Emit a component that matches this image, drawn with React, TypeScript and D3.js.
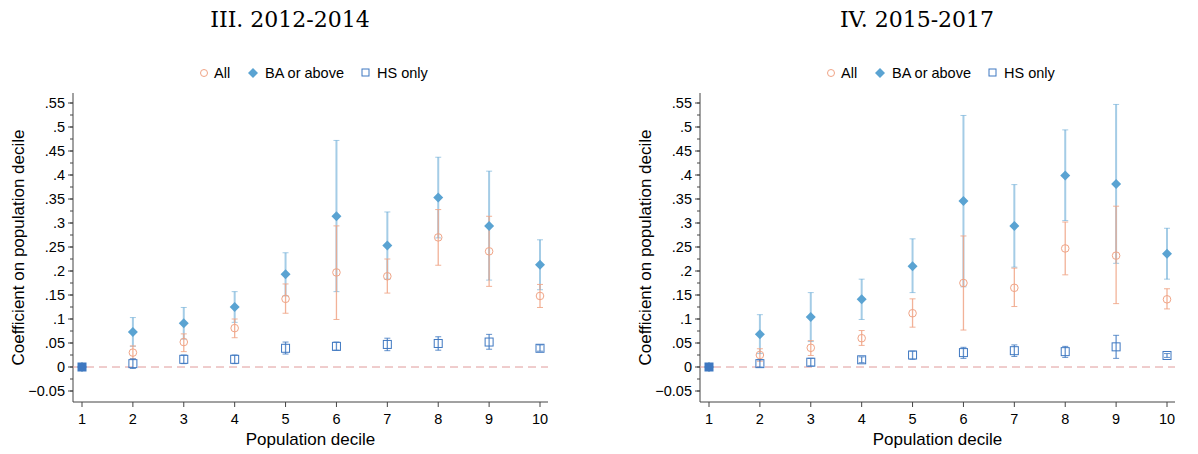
import React from 'react';
import * as d3 from 'd3';

const deciles = [1, 2, 3, 4, 5, 6, 7, 8, 9, 10];
const yTicks = [-0.05, 0, 0.05, 0.1, 0.15, 0.2, 0.25, 0.3, 0.35, 0.4, 0.45, 0.5, 0.55];

// [estimate, lower, upper] per decile
const allA = [[0, 0, 0], [0.030, 0.017, 0.044], [0.052, 0.032, 0.069], [0.081, 0.061, 0.1], [0.142, 0.112, 0.173], [0.197, 0.099, 0.294], [0.189, 0.154, 0.225], [0.270, 0.212, 0.328], [0.241, 0.168, 0.314], [0.148, 0.124, 0.172]];
const baA = [[0, 0, 0], [0.073, 0.043, 0.103], [0.091, 0.058, 0.124], [0.125, 0.093, 0.157], [0.193, 0.148, 0.238], [0.314, 0.157, 0.472], [0.253, 0.183, 0.323], [0.353, 0.269, 0.437], [0.294, 0.181, 0.408], [0.213, 0.161, 0.265]];
const hsA = [[0, 0, 0], [0.007, -0.003, 0.017], [0.016, 0.007, 0.025], [0.016, 0.007, 0.025], [0.039, 0.027, 0.052], [0.043, 0.035, 0.052], [0.047, 0.034, 0.060], [0.049, 0.035, 0.063], [0.052, 0.037, 0.068], [0.039, 0.033, 0.046]];

const allB = [[0, 0, 0], [0.025, 0.012, 0.038], [0.040, 0.024, 0.055], [0.060, 0.045, 0.076], [0.112, 0.083, 0.142], [0.175, 0.077, 0.273], [0.165, 0.126, 0.206], [0.247, 0.192, 0.302], [0.232, 0.132, 0.335], [0.141, 0.121, 0.163]];
const baB = [[0, 0, 0], [0.068, 0.028, 0.109], [0.104, 0.053, 0.155], [0.141, 0.099, 0.183], [0.210, 0.155, 0.267], [0.346, 0.167, 0.524], [0.294, 0.208, 0.380], [0.399, 0.305, 0.494], [0.381, 0.216, 0.547], [0.236, 0.183, 0.289]];
const hsB = [[0, 0, 0], [0.007, 0.0, 0.015], [0.010, 0.002, 0.018], [0.015, 0.009, 0.021], [0.025, 0.016, 0.033], [0.030, 0.018, 0.041], [0.034, 0.022, 0.046], [0.032, 0.020, 0.043], [0.042, 0.018, 0.066], [0.024, 0.020, 0.028]];

const C_ALL = '#f0a486';
const C_BA = '#5aa3d2';
const C_HS = '#3f78c1';
const FONT = 'Arial, "Liberation Sans", sans-serif';
const diamond = (r: number) => `M0,${-r}L${r},0L0,${r}L${-r},0Z`;

function Panel({ x0, title, all, ba, hs }: { x0: number; title: string; all: number[][]; ba: number[][]; hs: number[][] }) {
  const left = x0 + 73, right = x0 + 548, top = 93, bottom = 402;
  const x = d3.scaleLinear().domain([1, 10]).range([left + 9, right - 8]);
  const y = d3.scaleLinear().domain([0, 0.55]).range([367, 103]);
  const minor = d3.range(-0.075, 0.5751, 0.025).filter(v => y(v) < bottom && y(v) > top);

  const bars = (data: number[][], color: string, op: number, w: number) =>
    data.map((d, i) => {
      if (i === 0) return null;
      const cx = x(deciles[i]);
      return (
        <g key={i} stroke={color} strokeOpacity={op} strokeWidth={w}>
          <line x1={cx} x2={cx} y1={y(d[1])} y2={y(d[2])} />
          <line x1={cx - 3} x2={cx + 3} y1={y(d[1])} y2={y(d[1])} strokeWidth={1} />
          <line x1={cx - 3} x2={cx + 3} y1={y(d[2])} y2={y(d[2])} strokeWidth={1} />
        </g>
      );
    });

  const lx = x0 + 131;
  return (
    <g fontFamily={FONT}>
      <text x={x0 + 290} y={27} textAnchor="middle" fontFamily='"DejaVu Serif", "Liberation Serif", serif' fontSize={22}>{title}</text>
      {/* legend */}
      <circle cx={lx + 73} cy={73} r={3.5} fill="none" stroke={C_ALL} />
      <text x={lx + 83} y={78} fontSize={14.5}>All</text>
      <path d={diamond(5)} transform={`translate(${lx + 122},73)`} fill={C_BA} />
      <text x={lx + 134} y={78} fontSize={14.5}>BA or above</text>
      <rect x={lx + 231} y={69} width={7} height={7} fill="none" stroke={C_HS} />
      <text x={lx + 246} y={78} fontSize={14.5}>HS only</text>

      {/* axes */}
      <line x1={left} x2={left} y1={top} y2={bottom} stroke="#444" />
      <line x1={left} x2={right} y1={bottom} y2={bottom} stroke="#444" />
      {minor.map(v => <line key={v} x1={left - 3} x2={left} y1={y(v)} y2={y(v)} stroke="#444" />)}
      {yTicks.map(v => (
        <g key={v}>
          <line x1={left - 5} x2={left} y1={y(v)} y2={y(v)} stroke="#444" />
          <text x={left - 8} y={y(v) + 5} textAnchor="end" fontSize={14.5}>{d3.format('.2~f')(v).replace(/^(-?)0\./, '$1.')}</text>
        </g>
      ))}
      {deciles.map(d => (
        <g key={d}>
          <line x1={x(d)} x2={x(d)} y1={bottom} y2={bottom + 5} stroke="#444" />
          <text x={x(d)} y={bottom + 22} textAnchor="middle" fontSize={14.5}>{d}</text>
        </g>
      ))}
      <text x={(left + right) / 2} y={445} textAnchor="middle" fontSize={17}>Population decile</text>
      <text transform={`translate(${x0 + 24},${(top + bottom) / 2}) rotate(-90)`} textAnchor="middle" fontSize={17}>Coefficient on population decile</text>

      <line x1={left} x2={right} y1={y(0)} y2={y(0)} stroke="#e09a9a" strokeDasharray="8,5" />

      {bars(ba, C_BA, 0.55, 2)}
      {bars(all, C_ALL, 0.85, 1.3)}
      {bars(hs, C_HS, 0.8, 1.3)}

      {ba.map((d, i) => <path key={i} d={diamond(5)} transform={`translate(${x(deciles[i])},${y(d[0])})`} fill={C_BA} />)}
      {all.map((d, i) => <circle key={i} cx={x(deciles[i])} cy={y(d[0])} r={3.8} fill="none" stroke={C_ALL} />)}
      {hs.map((d, i) => <rect key={i} x={x(deciles[i]) - 4} y={y(d[0]) - 4} width={8} height={8} fill={i === 0 ? C_HS : 'none'} stroke={C_HS} />)}
    </g>
  );
}

export default function App() {
  return (
    <svg width={1198} height={454} style={{ position: 'absolute', left: 0, top: 0, background: '#fff' }}>
      <rect width={1198} height={454} fill="#fff" />
      <Panel x0={0} title="III. 2012-2014" all={allA} ba={baA} hs={hsA} />
      <Panel x0={627} title="IV. 2015-2017" all={allB} ba={baB} hs={hsB} />
    </svg>
  );
}
